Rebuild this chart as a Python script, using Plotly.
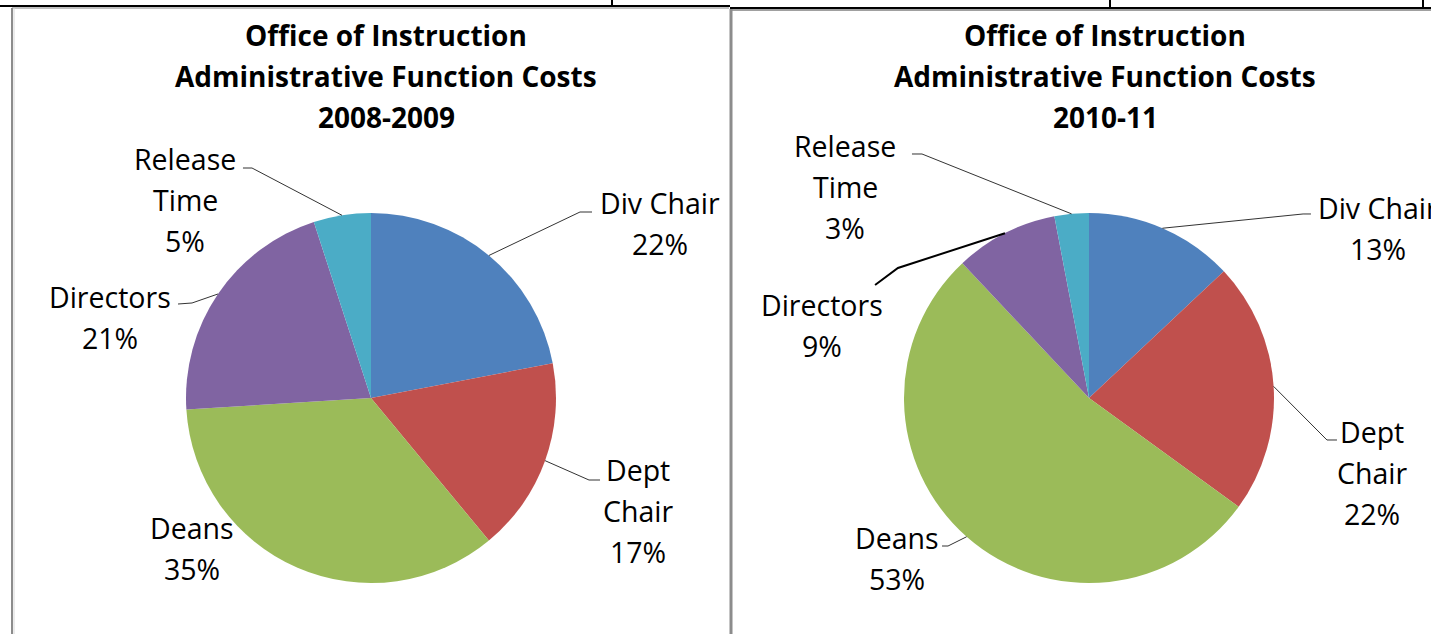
import math
import plotly.graph_objects as go

W, H = 1431, 634

categories = ["Div Chair", "Dept Chair", "Deans", "Directors", "Release Time"]
values_2008 = [22, 17, 35, 21, 5]
values_2010 = [13, 22, 53, 9, 3]
colors = ["#4F81BD", "#C0504D", "#9BBB59", "#8064A2", "#4BACC6"]
titles = [
    ["Office of Instruction", "Administrative Function Costs", "2008-2009"],
    ["Office of Instruction", "Administrative Function Costs", "2010-11"],
]
label_lines_2008 = [["Div Chair"], ["Dept", "Chair"], ["Deans"], ["Directors"], ["Release", "Time"]]
label_lines_2010 = [["Div Chair"], ["Dept", "Chair"], ["Deans"], ["Directors"], ["Release", "Time"]]

FONT = "Open Sans"
LABEL_SIZE = 28.5
TITLE_SIZE = 28
LINE_H = 41

# layout (pixel) parameters
panels = [
    dict(vals=values_2008, lines=label_lines_2008, cx=371, cy=398, r=185, tx=386,
         labels=[(660, 203), (638, 470), (192, 528), (110, 297), (185, 159)],
         leaders=[[(580, 212), (592, 212)], [(589, 480), (600, 480)], None,
                  [(192, 303), (178, 304)], [(252, 168), (243, 168)]],
         lw=[1, 1, 1, 1, 1]),
    dict(vals=values_2010, lines=label_lines_2010, cx=1089, cy=398, r=185, tx=1105,
         labels=[(1378, 208), (1372, 432), (897, 538), (822, 305), (845, 146)],
         leaders=[[(1303, 214), (1311, 214)], [(1327, 440), (1337, 440)],
                  [(948, 546), (942, 546)], [(898, 268), (875, 285)],
                  [(922, 154), (912, 154)]],
         lw=[1, 1, 1, 2, 1]),
]


def px(x):
    return x / W


def py(y):
    return 1 - y / H


fig = go.Figure()
annotations = []
shapes = []

for i, p in enumerate(panels):
    fig.add_trace(go.Pie(
        labels=categories, values=p["vals"], sort=False, direction="clockwise",
        rotation=0, marker=dict(colors=colors, line=dict(width=0)),
        textinfo="none", hoverinfo="label+percent", showlegend=False,
        domain=dict(x=[px(p["cx"] - p["r"]), px(p["cx"] + p["r"])],
                    y=[py(p["cy"] + p["r"]), py(p["cy"] - p["r"])]),
    ))
    for k, t in enumerate(titles[i]):
        annotations.append(dict(x=px(p["tx"]), y=py(35 + k * LINE_H), xref="paper", yref="paper",
                                text="<b>%s</b>" % t, showarrow=False,
                                font=dict(family=FONT, size=TITLE_SIZE, color="#000"),
                                xanchor="center", yanchor="middle"))
    total = sum(p["vals"])
    cum = 0
    for j, v in enumerate(p["vals"]):
        mid = (cum + v / 2) / total * 2 * math.pi
        cum += v
        pct = "%d%%" % round(v / total * 100)
        lx, ly = p["labels"][j]
        texts = p["lines"][j] + [pct]
        for k, t in enumerate(texts):
            annotations.append(dict(x=px(lx), y=py(ly + k * LINE_H), xref="paper", yref="paper",
                                    text=t, showarrow=False,
                                    font=dict(family=FONT, size=LABEL_SIZE, color="#000"),
                                    xanchor="center", yanchor="middle"))
        if p["leaders"][j]:
            sx = p["cx"] + p["r"] * math.sin(mid)
            sy = p["cy"] - p["r"] * math.cos(mid)
            pts = [(sx, sy)] + p["leaders"][j]
            path = "M " + " L ".join("%.4f,%.4f" % (px(a), py(b)) for a, b in pts)
            shapes.append(dict(type="path", path=path, xref="paper", yref="paper",
                               line=dict(color="#000" if p["lw"][j] > 1 else "#333",
                                         width=p["lw"][j])))


# table/frame lines
def seg(x0, y0, x1, y1, color, width):
    shapes.append(dict(type="line", xref="paper", yref="paper",
                       x0=px(x0), y0=py(y0), x1=px(x1), y1=py(y1),
                       line=dict(color=color, width=width)))


seg(0, 6, 730, 6, "#000", 2)
seg(730, 8, W, 8, "#000", 2)
seg(612, 0, 612, 6, "#000", 2)
seg(1110, 0, 1110, 7, "#000", 2)
seg(1423, 0, 1423, 7, "#000", 2)
seg(12, 8, 729, 8, "#c0c0c0", 2)
seg(12, 8, 12, H, "#8c8c8c", 2)
seg(14, 8, 14, H, "#d8d8d8", 1)
seg(731, 10, W, 10, "#a0a0a0", 2)
seg(731, 9, 731, H, "#8c8c8c", 3)

fig.update_layout(
    width=W, height=H, margin=dict(l=0, r=0, t=0, b=0),
    paper_bgcolor="white", plot_bgcolor="white",
    annotations=annotations, shapes=shapes,
)

fig.write_html("out.html", config={"displayModeBar": False},
               post_script="document.body.style.margin='0';")
